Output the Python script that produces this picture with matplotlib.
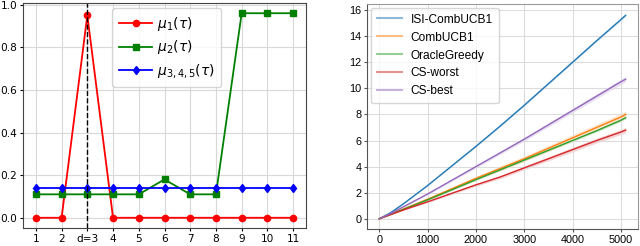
import numpy as np
import matplotlib
matplotlib.use("Agg")
import matplotlib.pyplot as plt

# left panel data
steps = [1, 2, 3, 4, 5, 6, 7, 8, 9, 10, 11]
step_labels = ["1", "2", "d=3", "4", "5", "6", "7", "8", "9", "10", "11"]
mu1 = [0, 0, 0.95, 0, 0, 0, 0, 0, 0, 0, 0]
mu2 = [0.11, 0.11, 0.11, 0.11, 0.11, 0.18, 0.11, 0.11, 0.96, 0.96, 0.96]
mu345 = [0.14] * 11

# right panel data (regret curves)
t = [0, 250, 500, 1000, 1500, 2000, 2500, 3000, 3500, 4000, 4500, 5000, 5100]
isi = [0, 0.5, 1.15, 2.55, 4.05, 5.55, 7.1, 8.7, 10.35, 12.0, 13.65, 15.27, 15.6]
comb = [0, 0.38, 0.75, 1.5, 2.3, 3.1, 3.85, 4.6, 5.4, 6.2, 7.0, 7.8, 8.0]
oracle = [0, 0.36, 0.72, 1.45, 2.22, 3.0, 3.75, 4.5, 5.25, 6.0, 6.75, 7.55, 7.75]
cs_worst = [0, 0.34, 0.68, 1.3, 1.95, 2.6, 3.2, 3.9, 4.6, 5.3, 6.0, 6.65, 6.8]
cs_best = [0, 0.43, 0.92, 1.9, 2.95, 4.0, 5.05, 6.1, 7.2, 8.3, 9.4, 10.5, 10.7]
isi_err = [0, 0.01, 0.02, 0.03, 0.04, 0.05, 0.05, 0.06, 0.06, 0.07, 0.07, 0.08, 0.08]
comb_err = [0, 0.03, 0.05, 0.08, 0.12, 0.15, 0.18, 0.2, 0.22, 0.24, 0.25, 0.27, 0.27]
oracle_err = [0, 0.01, 0.02, 0.03, 0.04, 0.05, 0.06, 0.07, 0.08, 0.09, 0.1, 0.1, 0.1]
worst_err = [0, 0.02, 0.04, 0.06, 0.08, 0.1, 0.12, 0.14, 0.15, 0.17, 0.18, 0.2, 0.2]
best_err = [0, 0.02, 0.04, 0.06, 0.08, 0.1, 0.12, 0.14, 0.15, 0.17, 0.18, 0.2, 0.2]

fig = plt.figure(figsize=(6.4, 2.46), dpi=100)

# ---- left panel ----
ax1 = fig.add_axes([23 / 640, 18 / 246, 283 / 640, 225 / 246])
ax1.plot(steps, mu1, color="red", marker="o", ms=4.5, lw=1.3, label=r"$\mu_1(\tau)$")
ax1.plot(steps, mu2, color="green", marker="s", ms=4.5, lw=1.3, label=r"$\mu_2(\tau)$")
ax1.plot(steps, mu345, color="blue", marker="d", ms=4.5, lw=1.3, label=r"$\mu_{3,4,5}(\tau)$")
ax1.axvline(3, color="black", ls="--", lw=1)
ax1.set_xticks(steps)
ax1.set_xticklabels(step_labels)
ax1.set_yticks([0, 0.2, 0.4, 0.6, 0.8, 1.0])
ax1.tick_params(labelsize=7.6, length=2.5, pad=1.5)
ax1.grid(True, color="#d8d8d8", lw=0.8)
for s in ax1.spines.values():
    s.set_color("#444444")
ax1.legend(loc="upper left", bbox_to_anchor=(0.315, 0.978), borderaxespad=0,
           fontsize=10, handlelength=2.4, handletextpad=0.3,
           borderpad=0.5, labelspacing=0.4)

# ---- right panel ----
ax2 = fig.add_axes([367 / 640, 17 / 246, 271 / 640, 225 / 246])
series = [("ISI-CombUCB1", isi, isi_err, "tab:blue"),
          ("CombUCB1", comb, comb_err, "tab:orange"),
          ("OracleGreedy", oracle, oracle_err, "tab:green"),
          ("CS-worst", cs_worst, worst_err, "tab:red"),
          ("CS-best", cs_best, best_err, "tab:purple")]
for name, y, e, c in series:
    y = np.array(y)
    e = np.array(e)
    ax2.plot(t, y, color=c, lw=1.0, label=name)
    ax2.fill_between(t, y - e, y + e, color=c, alpha=0.2, lw=0)
ax2.set_yticks([0, 2, 4, 6, 8, 10, 12, 14, 16])
ax2.set_xticks([0, 1000, 2000, 3000, 4000, 5000])
ax2.tick_params(labelsize=7.8, length=2.5, pad=1.5, color="#555555")
for lab in ax2.get_xticklabels() + ax2.get_yticklabels():
    lab.set_family("Liberation Sans")
ax2.grid(True, color="#dcdcdc", lw=0.8)
ax2.spines["left"].set_color("#555555")
ax2.spines["bottom"].set_color("#555555")
ax2.spines["top"].set_color("#999999")
ax2.spines["right"].set_color("#999999")
leg = ax2.legend(loc="upper left", prop={"family": "Liberation Sans", "size": 8.6},
                 handlelength=2.1, handletextpad=0.75, labelspacing=0.5,
                 borderpad=0.5, borderaxespad=0.3)
for line in leg.get_lines():
    line.set_alpha(0.5)
    line.set_linewidth(1.5)

fig.savefig("out.png", dpi=100)
